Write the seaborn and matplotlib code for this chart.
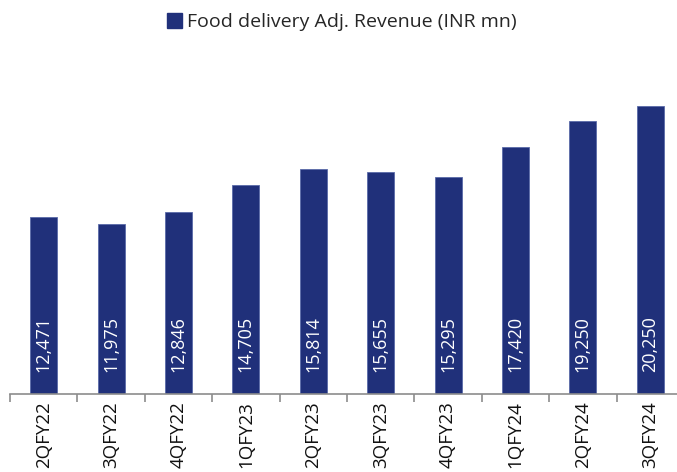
import matplotlib
matplotlib.use("Agg")
import matplotlib.pyplot as plt
import seaborn as sns
import pandas as pd
import numpy as np
from matplotlib.patches import Patch

quarters = ["2QFY22", "3QFY22", "4QFY22", "1QFY23", "2QFY23",
            "3QFY23", "4QFY23", "1QFY24", "2QFY24", "3QFY24"]
revenue = [12471, 11975, 12846, 14705, 15814, 15655, 15295, 17420, 19250, 20250]
series_name = "Food delivery Adj. Revenue (INR mn)"

bar_color = "#20307A"

sns.set_theme(style="white")
plt.rcParams["font.family"] = ["Open Sans", "DejaVu Sans"]

df = pd.DataFrame({"quarter": quarters, "revenue": revenue})

fig = plt.figure(figsize=(6.77, 4.72), dpi=100)
ax = fig.add_axes([10 / 677, (472 - 394) / 472, 674 / 677, (394 - 39) / 472])

sns.barplot(data=df, x="quarter", y="revenue", color=bar_color, width=0.4,
            saturation=1, ax=ax, edgecolor="#5A6AA8", linewidth=0.6)

ax.set_ylim(0, 25000)
ax.set_xlim(-0.5, len(quarters) - 0.5)
ax.set_xlabel("")
ax.set_ylabel("")
ax.set_yticks([])

for s in ["top", "right", "left"]:
    ax.spines[s].set_visible(False)
ax.spines["bottom"].set_color("#8C8C8C")
ax.spines["bottom"].set_linewidth(1.2)

# category labels, with tick marks at the boundaries between categories
ax.set_xticks(np.arange(len(quarters)))
ax.set_xticklabels(quarters, rotation=90, fontsize=13.5, color="#111111")
ax.tick_params(axis="x", which="major", length=0, pad=5)
ax.set_xticks(np.arange(len(quarters) + 1) - 0.5, minor=True)
ax.tick_params(axis="x", which="minor", length=6, width=1.2, color="#8C8C8C",
               bottom=True)

# value labels written inside each bar
for i, v in enumerate(revenue):
    ax.text(i, 1550, f"{v:,}", rotation=90, ha="center", va="bottom",
            color="white", fontsize=13)

handle = Patch(facecolor=bar_color, edgecolor=bar_color)
fig.legend([handle], [series_name], loc="upper center",
           bbox_to_anchor=(0.505, 1.01), frameon=False, fontsize=14,
           handlelength=0.75, handleheight=0.8, handletextpad=0.25)

fig.savefig("out.png", dpi=100)
